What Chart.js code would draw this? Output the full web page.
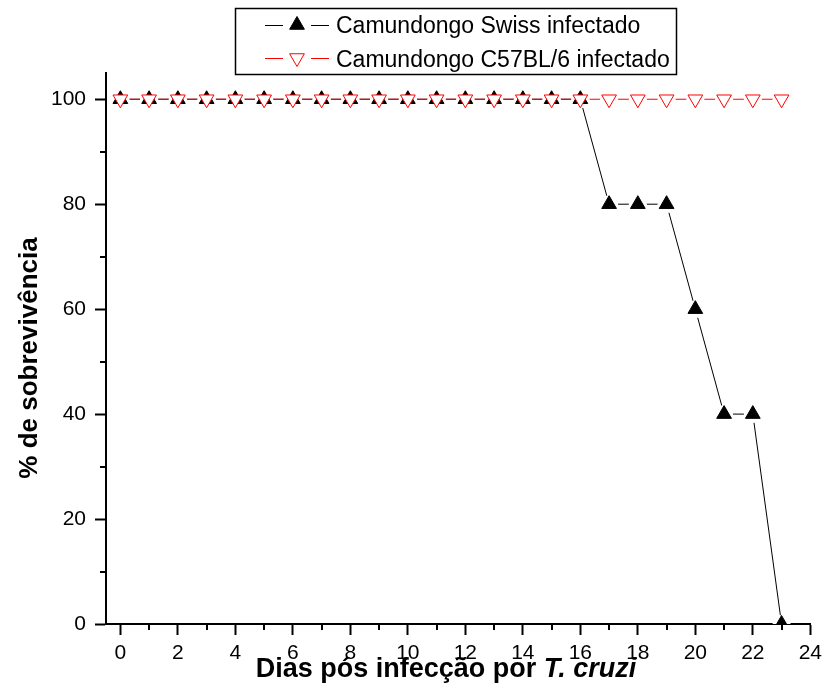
<!DOCTYPE html>
<html>
<head>
<meta charset="utf-8">
<title>Sobrevivência</title>
<script src="https://cdn.jsdelivr.net/npm/chart.js@4.4.1/dist/chart.umd.min.js"></script>
<style>
  html, body { margin: 0; padding: 0; background: #fff; }
</style>
</head>
<body>
<canvas id="myChart" width="828" height="697"></canvas>
<script>
// data
const days = [0, 1, 2, 3, 4, 5, 6, 7, 8, 9, 10, 11, 12, 13, 14, 15, 16, 17, 18, 19, 20, 21, 22, 23];
const swissSurvival = [100, 100, 100, 100, 100, 100, 100, 100, 100, 100, 100, 100, 100, 100, 100, 100, 100, 80, 80, 80, 60, 40, 40, 0];
const c57Survival = [100, 100, 100, 100, 100, 100, 100, 100, 100, 100, 100, 100, 100, 100, 100, 100, 100, 100, 100, 100, 100, 100, 100, 100];
const seriesNames = ['Camundongo Swiss infectado', 'Camundongo C57BL/6 infectado'];
const xTickValues = [0, 2, 4, 6, 8, 10, 12, 14, 16, 18, 20, 22, 24];
const xMinorValues = [1, 3, 5, 7, 9, 11, 13, 15, 17, 19, 21, 23];
const yTickValues = [0, 20, 40, 60, 80, 100];
const yMinorValues = [10, 30, 50, 70, 90];
const xTitleParts = ['Dias pós infecção por ', 'T. cruzi'];
const yTitle = '% de sobrevivência';

const FONT = "'Liberation Sans', Arial, sans-serif";

const toPoints = (values) => days.map((d, i) => ({ x: d, y: values[i] }));

// minor ticks, axis titles and the boxed legend (Origin style)
const originExtras = {
  id: 'originExtras',
  afterDraw(chart) {
    const ctx = chart.ctx;
    const area = chart.chartArea;
    const xs = chart.scales.x;
    const ys = chart.scales.y;

    ctx.save();
    ctx.strokeStyle = '#000';
    ctx.lineWidth = 2;
    xMinorValues.forEach((v) => {
      const px = Math.round(xs.getPixelForValue(v));
      ctx.beginPath();
      ctx.moveTo(px, area.bottom);
      ctx.lineTo(px, area.bottom + 6);
      ctx.stroke();
    });
    yMinorValues.forEach((v) => {
      const py = Math.round(ys.getPixelForValue(v));
      ctx.beginPath();
      ctx.moveTo(area.left - 6, py);
      ctx.lineTo(area.left, py);
      ctx.stroke();
    });

    // x title, with the species name in italics
    ctx.fillStyle = '#000';
    ctx.textBaseline = 'alphabetic';
    ctx.textAlign = 'left';
    const fA = 'bold 27px ' + FONT;
    const fB = 'italic bold 27px ' + FONT;
    ctx.font = fA;
    const wA = ctx.measureText(xTitleParts[0]).width;
    ctx.font = fB;
    const wB = ctx.measureText(xTitleParts[1]).width;
    let tx = 446 - (wA + wB) / 2;
    ctx.font = fA;
    ctx.fillText(xTitleParts[0], tx, 677);
    ctx.font = fB;
    ctx.fillText(xTitleParts[1], tx + wA, 677);

    // y title
    ctx.save();
    ctx.translate(37, 358);
    ctx.rotate(-Math.PI / 2);
    ctx.textAlign = 'center';
    ctx.font = 'bold 26px ' + FONT;
    ctx.fillText(yTitle, 0, 0);
    ctx.restore();

    // legend box
    ctx.lineWidth = 1.5;
    ctx.strokeStyle = '#000';
    ctx.strokeRect(235.5, 8.5, 441, 66);

    const rows = [
      { y: 25, base: 33, ds: chart.data.datasets[4] },
      { y: 58, base: 67, ds: chart.data.datasets[5] }
    ];
    rows.forEach((row, i) => {
      ctx.lineWidth = 1;
      ctx.strokeStyle = row.ds.pointBorderColor;
      ctx.beginPath();
      ctx.moveTo(265, row.y + 0.5);
      ctx.lineTo(283, row.y + 0.5);
      ctx.moveTo(311, row.y + 0.5);
      ctx.lineTo(329, row.y + 0.5);
      ctx.stroke();
      ctx.fillStyle = row.ds.pointBackgroundColor;
      Chart.helpers.drawPoint(ctx, {
        pointStyle: 'triangle',
        radius: row.ds.pointRadius,
        borderWidth: row.ds.pointBorderWidth,
        rotation: row.ds.pointRotation || 0
      }, 297, row.y);
      ctx.fillStyle = '#000';
      ctx.font = '23px ' + FONT;
      ctx.textAlign = 'left';
      ctx.fillText(seriesNames[i], 336, row.base);
    });
    ctx.restore();
  }
};

const axisGrid = {
  display: true,
  drawOnChartArea: false,
  drawTicks: true,
  tickLength: 11,
  tickWidth: 2,
  tickColor: '#000'
};

const ctx = document.getElementById('myChart').getContext('2d');
new Chart(ctx, {
  type: 'line',
  data: {
    datasets: [
      // lines first
      { label: seriesNames[0], data: toPoints(swissSurvival), borderColor: '#000', borderWidth: 1, pointRadius: 0, tension: 0, order: 6 },
      { label: seriesNames[1], data: toPoints(c57Survival), borderColor: '#ff0000', borderWidth: 1, pointRadius: 0, tension: 0, order: 5 },
      // white gaps round the symbols
      { label: 'gap1', data: toPoints(swissSurvival), showLine: false, pointStyle: 'circle', pointRadius: 9, pointBackgroundColor: '#fff', pointBorderWidth: 0, order: 4 },
      { label: 'gap2', data: toPoints(c57Survival), showLine: false, pointStyle: 'circle', pointRadius: 9, pointBackgroundColor: '#fff', pointBorderWidth: 0, order: 3 },
      // symbols
      { label: 'mk1', data: toPoints(swissSurvival), showLine: false, pointStyle: 'triangle', pointRadius: 8.5, pointBackgroundColor: '#000', pointBorderColor: '#000', pointBorderWidth: 1, order: 2 },
      { label: 'mk2', data: toPoints(c57Survival), showLine: false, pointStyle: 'triangle', pointRotation: 180, pointRadius: 8.5, pointBackgroundColor: '#fff', pointBorderColor: '#ff0000', pointBorderWidth: 1, order: 1 }
    ]
  },
  options: {
    responsive: false,
    animation: false,
    events: [],
    devicePixelRatio: 1,
    layout: { autoPadding: false, padding: { top: 73, right: 12, left: 0, bottom: 0 } },
    plugins: { legend: { display: false }, tooltip: { enabled: false } },
    scales: {
      x: {
        type: 'linear',
        position: 'bottom',
        min: -0.5,
        max: 24,
        z: 1,
        border: { display: true, color: '#000', width: 2 },
        grid: axisGrid,
        ticks: { color: '#000', font: { family: FONT, size: 21 }, padding: 6, maxRotation: 0 },
        afterBuildTicks: (axis) => { axis.ticks = xTickValues.map((v) => ({ value: v })); },
        afterFit: (axis) => { axis.height = 73; }
      },
      y: {
        type: 'linear',
        position: 'left',
        min: 0,
        max: 105,
        z: 1,
        border: { display: true, color: '#000', width: 2 },
        grid: axisGrid,
        ticks: { color: '#000', font: { family: FONT, size: 21 }, padding: 9 },
        afterBuildTicks: (axis) => { axis.ticks = yTickValues.map((v) => ({ value: v })); },
        afterFit: (axis) => { axis.width = 106; }
      }
    }
  },
  plugins: [originExtras]
});
</script>
</body>
</html>
